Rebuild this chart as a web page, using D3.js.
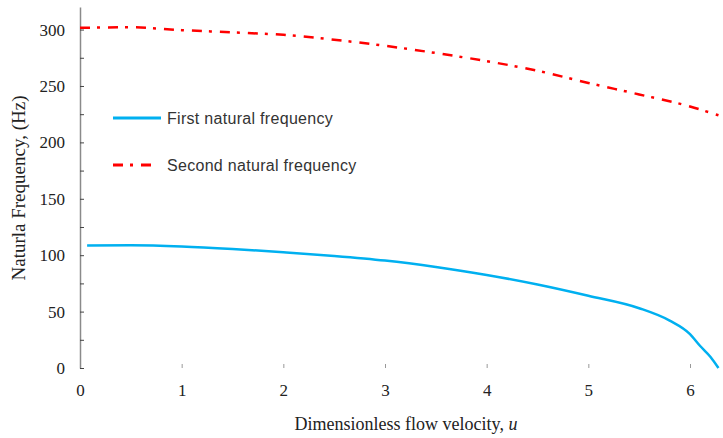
<!DOCTYPE html>
<html>
<head>
<meta charset="utf-8">
<script src="https://cdn.jsdelivr.net/npm/d3@7"></script>
<style>
  body { margin: 0; background: #fff; }
</style>
</head>
<body>
<div id="chart"></div>
<script>
// Data
const firstU    = [0.07, 0.5, 1, 1.5, 2, 2.5, 3, 3.5, 4, 4.5, 5, 5.5, 5.8, 6, 6.1, 6.2, 6.28];
const firstFreq = [108.5, 108.7, 107.7, 105.5, 102.6, 99.3, 95.2, 89.5, 82.5, 74, 64, 53, 42, 30, 19.5, 10, 0];

const secondU    = [0, 0.5, 1, 1.5, 2, 2.5, 3, 3.5, 4, 4.5, 5, 5.5, 6, 6.28];
const secondFreq = [301.5, 302, 299.5, 297.5, 295.3, 291, 285.6, 279.2, 272, 263.5, 252.7, 242.5, 231.8, 224];

const xTicks = [0, 1, 2, 3, 4, 5, 6];
const yTicks = [0, 25, 50, 75, 100, 125, 150, 175, 200, 225, 250, 275, 300];

const seriesNames = ["First natural frequency", "Second natural frequency"];

const width = 723, height = 438;
const serif = "Liberation Serif";
const sans  = "Liberation Sans";

const svg = d3.select("#chart")
  .append("svg")
    .attr("width", width)
    .attr("height", height);

const x = d3.scaleLinear().domain([0, 6.3]).range([80, 720.5]);
const y = d3.scaleLinear().domain([0, 320]).range([368, 7]);

// y axis: ticks pointing inside, labels every 50
const yAxis = svg.append("g")
  .attr("transform", "translate(" + x(0) + ",0)")
  .call(d3.axisLeft(y)
    .tickValues(yTicks)
    .tickSize(-4)
    .tickSizeOuter(0)
    .tickPadding(15)
    .tickFormat(function(d) { return d % 50 ? "" : d; }))
  .attr("font-family", serif)
  .attr("font-size", 17);
yAxis.select(".domain").attr("stroke", "#8a8a8a").attr("stroke-width", 1.5);
yAxis.selectAll(".tick line").attr("stroke", "#444");
yAxis.selectAll("text").attr("fill", "#222");

// x axis: small ticks, no axis line
const xAxis = svg.append("g")
  .attr("transform", "translate(0," + y(0) + ")")
  .call(d3.axisBottom(x)
    .tickValues(xTicks)
    .tickSize(-4)
    .tickPadding(16)
    .tickFormat(d3.format("d")))
  .attr("font-family", serif)
  .attr("font-size", 17);
xAxis.select(".domain").remove();
xAxis.selectAll(".tick line").attr("stroke", "#999");
xAxis.selectAll(".tick").filter(function(d) { return d === 0; }).select("line").remove();
xAxis.selectAll("text").attr("fill", "#222");

// axis titles
const xTitle = svg.append("text")
  .attr("x", 406)
  .attr("y", 430)
  .attr("text-anchor", "middle")
  .attr("font-family", serif)
  .attr("font-size", 18)
  .attr("fill", "#222")
  .text("Dimensionless flow velocity, ");
xTitle.append("tspan").style("font-style", "italic").text("u");

svg.append("text")
  .attr("transform", "translate(25,188) rotate(-90)")
  .attr("text-anchor", "middle")
  .attr("font-family", serif)
  .attr("font-size", 19)
  .attr("fill", "#222")
  .text("Naturla Frequency, (Hz)");

// curves
const line = d3.line()
  .x(function(d) { return x(d[0]); })
  .y(function(d) { return y(d[1]); })
  .curve(d3.curveMonotoneX);

const first  = firstU.map(function(u, i) { return [u, firstFreq[i]]; });
const second = secondU.map(function(u, i) { return [u, secondFreq[i]]; });

svg.append("path")
  .datum(first)
  .attr("d", line)
  .attr("fill", "none")
  .attr("stroke", "#00b0f0")
  .attr("stroke-width", 2.5);

svg.append("path")
  .datum(second)
  .attr("d", line)
  .attr("fill", "none")
  .attr("stroke", "#ff0000")
  .attr("stroke-width", 2.5)
  .attr("stroke-dasharray", "10,7,3,8");

// legend
const legend = [
  { name: seriesNames[0], color: "#00b0f0", dash: null, y: 118, x2: 161 },
  { name: seriesNames[1], color: "#ff0000", dash: "10,7,3,8", y: 165, x2: 153 }
];

legend.forEach(function(l) {
  svg.append("line")
    .attr("x1", 113).attr("x2", l.x2)
    .attr("y1", l.y).attr("y2", l.y)
    .attr("stroke", l.color)
    .attr("stroke-width", 3)
    .attr("stroke-dasharray", l.dash);
  svg.append("text")
    .attr("x", 167)
    .attr("y", l.y + 6)
    .attr("font-family", sans)
    .attr("font-size", 16)
    .attr("letter-spacing", 0.3)
    .attr("fill", "#333")
    .text(l.name);
});
</script>
</body>
</html>
